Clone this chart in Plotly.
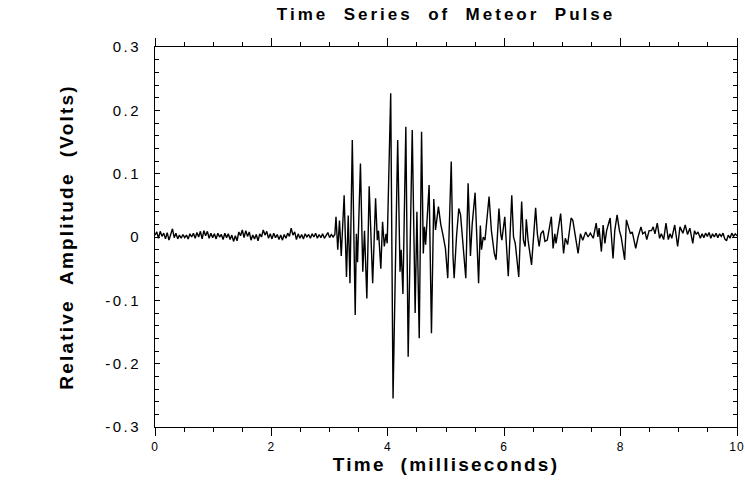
import numpy as np
import plotly.graph_objects as go

# Quiet receiver noise before the echo, sampled every 0.03 ms from t = 0
pre_start_ms = 0.0
pre_step_ms = 0.03
pre_amp_v = [
    0.003, 0.008, -0.002, 0.009, 0.001, 0.006, -0.003, 0.007, -0.005, 0.004,
    0.013, -0.001, 0.006, -0.003, 0.003, -0.002, 0.004, -0.001, 0.003, -0.003,
    0.005, 0.000, 0.006, -0.002, 0.007, 0.000, 0.009, -0.003, 0.010, 0.002,
    0.009, -0.002, 0.006, -0.001, 0.005, -0.003, 0.006, 0.000, 0.004, -0.004,
    0.006, -0.001, 0.005, -0.004, 0.003, -0.007, 0.002, -0.006, 0.008, 0.002,
    0.011, -0.001, 0.010, 0.001, 0.008, -0.005, 0.003, -0.003, 0.004, -0.006,
    0.005, 0.000, 0.011, 0.003, 0.009, -0.002, 0.005, -0.003, 0.006, -0.001,
    0.004, -0.004, 0.003, -0.005, 0.004, -0.002, 0.006, 0.001, 0.014, 0.003,
    0.008, -0.004, 0.005, -0.002, 0.004, -0.003, 0.005, 0.000, 0.004, -0.002,
    0.005, 0.000, 0.006, -0.002, 0.004, -0.001, 0.005, -0.002, 0.003, 0.007,
    -0.001, 0.004, 0.000,
]

# The meteor pulse itself: time (ms) and amplitude (V) of each turning point
pulse_t_ms = [
    3.09, 3.11, 3.14, 3.17, 3.20, 3.25, 3.29, 3.32, 3.35, 3.39,
    3.44, 3.46, 3.48, 3.53, 3.57, 3.60, 3.64, 3.68, 3.71, 3.74,
    3.79, 3.82, 3.84, 3.88, 3.91, 3.94, 3.97, 3.99, 4.05, 4.09,
    4.17, 4.21, 4.23, 4.26, 4.31, 4.35, 4.42, 4.47, 4.50, 4.54,
    4.58, 4.61, 4.63, 4.65, 4.71, 4.75, 4.79, 4.82, 4.87, 4.91,
    4.95, 4.99, 5.03, 5.09, 5.12, 5.14, 5.18, 5.22, 5.25, 5.29,
    5.34, 5.38, 5.42, 5.45, 5.50, 5.56, 5.59, 5.61, 5.64, 5.67,
    5.74, 5.78, 5.83, 5.86, 5.91, 5.94, 5.96, 6.01, 6.07, 6.13,
    6.16, 6.19, 6.25, 6.30, 6.33, 6.36, 6.38, 6.41, 6.47, 6.54,
    6.57, 6.60, 6.63, 6.67, 6.70, 6.74, 6.81, 6.84, 6.87, 6.89,
    6.97, 7.02, 7.05, 7.09, 7.15, 7.18, 7.22, 7.27, 7.31, 7.35,
    7.40, 7.44, 7.48, 7.53, 7.58, 7.61, 7.63, 7.67, 7.70, 7.73,
    7.76, 7.82, 7.87, 7.90, 7.94, 7.98, 8.01, 8.07, 8.10, 8.13,
    8.17, 8.20, 8.26, 8.30, 8.35, 8.38, 8.42, 8.45, 8.49, 8.53,
    8.56, 8.59, 8.63, 8.67, 8.70, 8.74, 8.78, 8.82, 8.85, 8.88,
    8.93, 8.98, 9.02, 9.07, 9.11, 9.15, 9.19, 9.24, 9.27, 9.30,
    9.33, 9.37,
]
pulse_amp_v = [
    0.004, 0.032, -0.020, 0.026, -0.030, 0.066, -0.063, 0.034, -0.073, 0.153,
    -0.123, 0.005, -0.040, 0.116, -0.055, 0.010, -0.097, 0.080, -0.010, -0.073,
    0.061, -0.005, 0.010, -0.050, 0.024, -0.015, 0.005, -0.010, 0.227, -0.255,
    0.153, -0.055, -0.020, -0.090, 0.174, -0.189, 0.169, -0.120, 0.040, -0.160,
    0.166, -0.026, 0.016, -0.012, 0.082, -0.152, 0.060, 0.011, 0.048, 0.020,
    0.002, -0.018, -0.065, 0.119, -0.030, -0.065, 0.000, 0.045, 0.035, -0.010,
    -0.065, 0.085, -0.030, 0.020, 0.070, -0.073, 0.018, -0.020, 0.000, -0.005,
    0.064, 0.010, -0.026, -0.036, 0.045, 0.005, -0.005, 0.032, -0.062, 0.066,
    0.000, -0.010, -0.063, 0.056, -0.005, -0.015, 0.028, -0.005, -0.044, 0.046,
    0.005, -0.015, 0.005, 0.010, -0.007, -0.005, 0.032, -0.018, 0.005, -0.010,
    0.037, -0.026, -0.002, -0.012, 0.030, 0.026, 0.000, -0.026, 0.005, -0.005,
    0.008, 0.000, 0.006, -0.002, 0.022, 0.000, 0.014, -0.023, 0.019, -0.010,
    0.010, 0.030, -0.034, 0.010, 0.035, 0.010, 0.000, -0.036, 0.027, 0.018,
    0.005, 0.008, -0.018, 0.000, 0.016, 0.005, 0.008, -0.004, 0.010, 0.010,
    0.016, 0.005, 0.022, -0.002, 0.005, -0.004, 0.022, -0.004, 0.005, -0.002,
    0.019, -0.015, 0.016, 0.006, 0.019, 0.004, 0.014, -0.010, 0.010, 0.004,
    0.008, -0.002,
]

# Residual noise at the end of the record, sampled every 0.03 ms
post_start_ms = 9.40
post_step_ms = 0.03
post_amp_v = [
    0.005, -0.001, 0.006, 0.001, 0.007, -0.002, 0.005, 0.000, 0.006, -0.001,
    0.005, 0.001, 0.006, -0.003, -0.006, 0.003, -0.002, 0.006, 0.001, 0.005,
    0.002,
]

# Axis ticks
x_tick_vals = [0, 2, 4, 6, 8, 10]
y_tick_vals = [-0.3, -0.2, -0.1, 0, 0.1, 0.2, 0.3]
y_tick_text = ["-0.3", "-0.2", "-0.1", "0", "0.1", "0.2", "0.3"]

pre_t = pre_start_ms + pre_step_ms * np.arange(len(pre_amp_v))
post_t = post_start_ms + post_step_ms * np.arange(len(post_amp_v))
time_ms = np.concatenate([pre_t, np.array(pulse_t_ms), post_t])
amp_v = np.concatenate([np.array(pre_amp_v), np.array(pulse_amp_v), np.array(post_amp_v)])

FONT = "Liberation Sans"

fig = go.Figure(
    go.Scatter(
        x=time_ms,
        y=amp_v,
        mode="lines",
        line=dict(color="black", width=1.4),
        hoverinfo="skip",
    )
)

fig.update_layout(
    width=745,
    height=489,
    margin=dict(l=155, r=8, t=47, b=62),
    paper_bgcolor="white",
    plot_bgcolor="white",
    showlegend=False,
    title=dict(
        text="Time  Series  of  Meteor  Pulse",
        x=0.5,
        xref="paper",
        xanchor="center",
        y=1 - 14 / 489,
        yref="container",
        yanchor="middle",
        font=dict(family=FONT, size=17, color="black", weight="bold"),
    ),
    xaxis=dict(
        range=[0, 10],
        tickvals=x_tick_vals,
        ticks="outside",
        ticklen=8,
        tickwidth=1,
        tickcolor="black",
        showline=True,
        linecolor="black",
        linewidth=1,
        mirror="ticks",
        showgrid=False,
        zeroline=False,
        tickfont=dict(family=FONT, size=12, color="black"),
        ticklabelstandoff=1,
        minor=dict(
            tickmode="linear",
            tick0=0,
            dtick=0.5,
            ticks="outside",
            ticklen=4,
            tickcolor="black",
            showgrid=False,
        ),
        title=dict(
            text="Time  (milliseconds)",
            font=dict(family=FONT, size=19, color="black", weight="bold"),
            standoff=3,
        ),
        automargin=False,
    ),
    yaxis=dict(
        range=[-0.3, 0.3],
        tickvals=y_tick_vals,
        ticktext=y_tick_text,
        ticks="inside",
        ticklen=5,
        tickwidth=1,
        tickcolor="black",
        showline=True,
        linecolor="black",
        linewidth=1,
        mirror="ticks",
        showgrid=False,
        zeroline=False,
        tickfont=dict(family=FONT, size=15, color="black"),
        ticklabelstandoff=10,
        minor=dict(
            tickmode="linear",
            tick0=0,
            dtick=0.02,
            ticks="inside",
            ticklen=4,
            tickcolor="black",
            showgrid=False,
        ),
        title=dict(
            text="Relative  Amplitude  (Volts)",
            font=dict(family=FONT, size=19, color="black", weight="bold"),
            standoff=36,
        ),
        automargin=False,
    ),
)

# Widen letter spacing of the chart's text after each render
spacing_js = """
var gd = document.getElementById('{plot_id}');
function spaceText() {
  var rules = [['.gtitle', '3px'], ['.xtitle', '2.2px'], ['.ytitle', '2.2px'],
               ['.ytick text', '2.5px'], ['.xtick text', '1px']];
  rules.forEach(function (r) {
    gd.querySelectorAll(r[0]).forEach(function (el) { el.style.letterSpacing = r[1]; });
  });
}
spaceText();
gd.on('plotly_afterplot', spaceText);
"""

fig.write_html("out.html", post_script=spacing_js)
